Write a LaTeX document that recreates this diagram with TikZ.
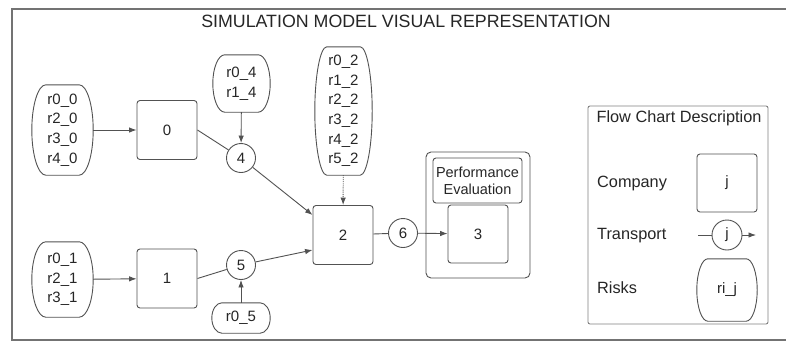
\documentclass[tikz,border=0pt]{standalone}
\usepackage{fontspec}
\setmainfont{Liberation Sans}
\usetikzlibrary{arrows.meta,calc}
\newcommand\riskoutline[2][12]{%
  \draw[line] ($(#2.north west)+(#1,0)$) -- ($(#2.north east)+(-#1,0)$)
    .. controls ($(#2.north east)+(-0.45*#1,0)$) and ($(#2.east)!0.55!(#2.north east)$) .. (#2.east)
    .. controls ($(#2.east)!0.55!(#2.south east)$) and ($(#2.south east)+(-0.45*#1,0)$) .. ($(#2.south east)+(-#1,0)$)
    -- ($(#2.south west)+(#1,0)$)
    .. controls ($(#2.south west)+(0.45*#1,0)$) and ($(#2.west)!0.55!(#2.south west)$) .. (#2.west)
    .. controls ($(#2.west)!0.55!(#2.north west)$) and ($(#2.north west)+(0.45*#1,0)$) .. ($(#2.north west)+(#1,0)$) -- cycle;}
\begin{document}
\begin{tikzpicture}[x=1pt,y=-1pt,
  line/.style={draw=black!68, line width=0.9pt},
  arr/.style={line, -{Latex[length=7.5pt,width=5.5pt]}},
  company/.style={draw=black!68, line width=0.9pt, rounded corners=3pt, minimum width=60pt, minimum height=59pt, inner sep=0pt, text=black!85, font=\fontsize{15}{18}\selectfont},
  transport/.style={draw=black!68, line width=0.9pt, circle, minimum size=29pt, inner sep=0pt, text=black!85, font=\fontsize{15}{18}\selectfont},
  riskn/.style={draw=none, rectangle, inner sep=0pt, align=center, text=black!85, font=\fontsize{15}{19.6}\selectfont},
  legtext/.style={anchor=west, inner sep=0pt, text=black!85, font=\fontsize{16.3}{19}\selectfont},
  frame/.style={draw=black!55, line width=1.3pt}
]
\useasboundingbox (0,0) rectangle (786,343);
\fill[white] (0,0) rectangle (786,343);
% outer frame
\draw[frame] (795,9) -- (12,9) -- (12,340) -- (795,340);
\node[inner sep=0pt, text=black!85, font=\fontsize{17.8}{20}\selectfont] (title) at (406,21) {SIMULATION MODEL VISUAL REPRESENTATION};

% risk groups
\node[riskn, minimum width=61pt, minimum height=90pt] (r0) at (62.5,130) {r0\_0\\r2\_0\\r3\_0\\r4\_0};
\riskoutline[14]{r0}
\node[riskn, minimum width=61pt, minimum height=75pt] (r1) at (62.5,279.5) {r0\_1\\r2\_1\\r3\_1};
\riskoutline[14]{r1}
\node[riskn, minimum width=57pt, minimum height=57pt] (r4) at (241.5,83.5) {r0\_4\\r1\_4};
\riskoutline[12]{r4}
\node[riskn, minimum width=57pt, minimum height=128pt] (r2) at (343.5,111) {r0\_2\\r1\_2\\r2\_2\\r3\_2\\r4\_2\\r5\_2};
\riskoutline[12]{r2}
\node[riskn, minimum width=58pt, minimum height=30pt] (r5) at (241,318) {r0\_5};
\riskoutline[10]{r5}

% companies
\node[company] (c0) at (167,130) {0};
\node[company] (c1) at (167,278.5) {1};
\node[company] (c2) at (343,235) {2};
% performance container
\draw[line, rounded corners=5pt] (426,152) rectangle (530,278);
\node[draw=black!68, line width=0.9pt, rounded corners=3pt, minimum width=89pt, minimum height=45pt, inner sep=0pt, align=center, text=black!85, font=\fontsize{14.5}{17}\selectfont] (perf) at (477.5,180.5) {Performance\\Evaluation};
\node[company, minimum height=58pt] (c3) at (478,234) {3};

% transports
\node[transport] (t4) at (241,158) {4};
\node[transport] (t5) at (241,265) {5};
\node[transport] (t6) at (403,233) {6};

% connectors
\draw[arr] (r0) -- (c0);
\draw[arr] (r1) -- (c1);
\draw[line] (c0.east) -- (t4);
\draw[line] (c1.east) -- (t5);
\draw[arr] (r4) -- (t4);
\draw[arr] (r5) -- (t5);
\draw[arr] (t4) -- ([yshift=20pt]c2.west);
\draw[arr] (t5) -- ([yshift=-15pt]c2.west);
\draw[arr, densely dotted] (r2) -- (c2);
\draw[line] (c2) -- (t6);
\draw[arr] (t6) -- (c3);

% legend
\draw[draw=black!50, line width=0.9pt, rounded corners=2pt] (588,106) rectangle (768,324);
\node[inner sep=0pt, text=black!85, font=\fontsize{16.3}{19}\selectfont] (legtitle) at (679,118) {Flow Chart Description};
\node[legtext] (lcomp) at (597,183) {Company};
\node[company, minimum height=58pt] (lj) at (727,183) {j};
\node[legtext] (ltrans) at (597,236) {Transport};
\node[transport, minimum size=30pt] (lt) at (727,235) {j};
\coordinate (ltin) at (698,235);
\coordinate (ltout) at (756,235);
\draw[line] (ltin) -- (lt);
\draw[arr] (lt) -- (ltout);
\node[legtext] (lrisk) at (597,288) {Risks};
\node[riskn, minimum width=60pt, minimum height=62pt] (lr) at (727,290) {ri\_j};
\riskoutline[11]{lr}
\end{tikzpicture}
\end{document}
